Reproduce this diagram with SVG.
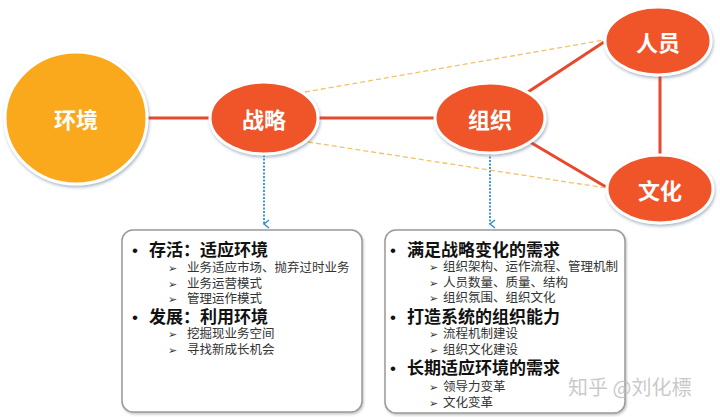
<svg xmlns="http://www.w3.org/2000/svg" width="720" height="417" viewBox="0 0 720 417">
<defs>
<style>
.node{stroke:#ffffff;stroke-width:3;filter:url(#sh)}
.red{fill:#F0542A}
.ntxt{font-family:"Noto Sans CJK SC","Noto Sans",sans-serif;font-weight:bold;fill:#ffffff;font-size:22px;text-anchor:middle;dominant-baseline:central}
.solid{stroke:#E8482C;stroke-width:3;fill:none}
.dash{stroke:#F2C26A;stroke-width:1.3;stroke-dasharray:5 3;fill:none}
.dot{stroke:#2F8FD0;stroke-width:1.8;stroke-dasharray:2 1.5;fill:none}
.box{fill:#ffffff;stroke:#9a9a9a;stroke-width:1.5;filter:url(#bs)}
.h{font-family:"Noto Sans CJK SC",sans-serif;font-weight:bold;font-size:17px;fill:#111}
.s{font-family:"Noto Sans CJK SC",sans-serif;font-size:12.5px;fill:#333}
.b{font-family:"Liberation Sans",sans-serif;font-weight:normal}
.ar{font-family:"DejaVu Sans",sans-serif;font-size:11px}
</style>
<filter id="sh" x="-20%" y="-20%" width="140%" height="140%">
<feDropShadow dx="1" dy="2" stdDeviation="1.5" flood-color="#4a6a8a" flood-opacity="0.45"/>
</filter>
<filter id="bs" x="-5%" y="-5%" width="110%" height="110%">
<feDropShadow dx="1" dy="1.5" stdDeviation="1.2" flood-color="#666" flood-opacity="0.4"/>
</filter>
<marker id="arr" markerWidth="10" markerHeight="10" refX="5" refY="7" orient="auto" markerUnits="userSpaceOnUse">
<path d="M1,2 L5,7 L9,2" fill="none" stroke="#2F8FD0" stroke-width="1.5"/>
</marker>
</defs>
<rect width="720" height="417" fill="#ffffff"/>
<g id="connectors">
<line class="solid" x1="147" y1="118" x2="210" y2="118"/>
<line class="solid" x1="318" y1="118" x2="435" y2="118"/>
<line class="solid" x1="528" y1="92" x2="604" y2="42"/>
<line class="solid" x1="530" y1="142" x2="606" y2="187"/>
<line class="solid" x1="660" y1="75" x2="660" y2="155"/>
<line class="dash" x1="305" y1="92" x2="604" y2="40"/>
<line class="dash" x1="308" y1="142" x2="606" y2="188"/>
<line class="dot" x1="264" y1="155" x2="264" y2="224" marker-end="url(#arr)"/>
<line class="dot" x1="490" y1="153" x2="490" y2="224" marker-end="url(#arr)"/>
</g>
<g id="node-env">
<ellipse class="node" cx="76" cy="118" rx="71" ry="66" fill="#FBA91A"/>
<text class="ntxt" x="76" y="118" font-size="23">环境</text>
</g>
<g id="node-strategy">
<ellipse class="node red" cx="264" cy="118" rx="54" ry="36"/>
<text class="ntxt" x="264" y="118">战略</text>
</g>
<g id="node-org">
<ellipse class="node red" cx="490" cy="118" rx="55" ry="35"/>
<text class="ntxt" x="490" y="118">组织</text>
</g>
<g id="node-people">
<ellipse class="node red" cx="658" cy="41" rx="53" ry="34"/>
<text class="ntxt" x="658" y="41">人员</text>
</g>
<g id="node-culture">
<ellipse class="node red" cx="660" cy="189" rx="53" ry="34"/>
<text class="ntxt" x="660" y="189">文化</text>
</g>
<g id="box-strategy">
<rect class="box" x="122" y="230" width="240" height="182" rx="11"/>
<text class="h" x="132" y="256"><tspan class="b">•</tspan><tspan x="149">存活：适应环境</tspan></text>
<text class="s" x="168" y="272"><tspan class="ar">➢</tspan><tspan x="187">业务适应市场、抛弃过时业务</tspan></text>
<text class="s" x="168" y="288"><tspan class="ar">➢</tspan><tspan x="187">业务运营模式</tspan></text>
<text class="s" x="168" y="303"><tspan class="ar">➢</tspan><tspan x="187">管理运作模式</tspan></text>
<text class="h" x="132" y="323"><tspan class="b">•</tspan><tspan x="149">发展：利用环境</tspan></text>
<text class="s" x="168" y="338"><tspan class="ar">➢</tspan><tspan x="187">挖掘现业务空间</tspan></text>
<text class="s" x="168" y="354"><tspan class="ar">➢</tspan><tspan x="187">寻找新成长机会</tspan></text>
</g>
<g id="box-org">
<rect class="box" x="385" y="230" width="240" height="183" rx="11"/>
<text class="h" x="390" y="256"><tspan class="b">•</tspan><tspan x="407">满足战略变化的需求</tspan></text>
<text class="s" x="429" y="271"><tspan class="ar">➢</tspan><tspan x="443">组织架构、运作流程、管理机制</tspan></text>
<text class="s" x="429" y="287"><tspan class="ar">➢</tspan><tspan x="443">人员数量、质量、结构</tspan></text>
<text class="s" x="429" y="302"><tspan class="ar">➢</tspan><tspan x="443">组织氛围、组织文化</tspan></text>
<text class="h" x="390" y="323"><tspan class="b">•</tspan><tspan x="407">打造系统的组织能力</tspan></text>
<text class="s" x="429" y="338"><tspan class="ar">➢</tspan><tspan x="443">流程机制建设</tspan></text>
<text class="s" x="429" y="354"><tspan class="ar">➢</tspan><tspan x="443">组织文化建设</tspan></text>
<text class="h" x="390" y="374"><tspan class="b">•</tspan><tspan x="407">长期适应环境的需求</tspan></text>
<text class="s" x="429" y="391"><tspan class="ar">➢</tspan><tspan x="443">领导力变革</tspan></text>
<text class="s" x="429" y="407"><tspan class="ar">➢</tspan><tspan x="443">文化变革</tspan></text>
</g>
<text x="568" y="395" font-family="Noto Sans CJK SC,sans-serif" font-size="20" fill="#c0c0c0" fill-opacity="0.85">知乎 @刘化標</text>
</svg>
